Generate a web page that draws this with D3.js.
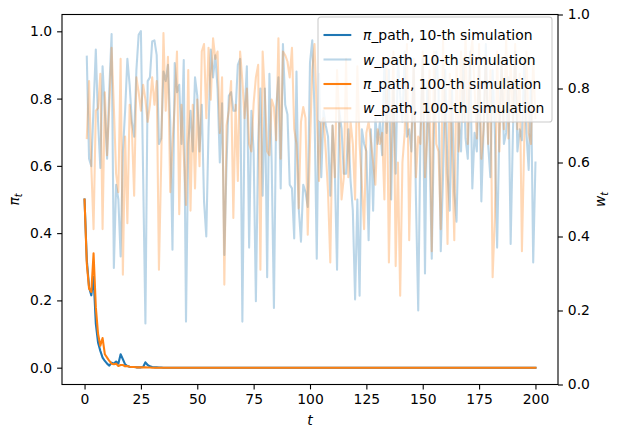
<!DOCTYPE html>
<html>
<head>
<meta charset="utf-8">
<script src="https://cdn.jsdelivr.net/npm/d3@7"></script>
<style>
	body { margin: 0; background: #fff; }
	svg { display: block; font-family: "DejaVu Sans", sans-serif; }
</style>
</head>
<body>
<div id="chart"></div>
<script>
// pi paths, t = 0 .. 200
let piPath10 = [
	0.5, 0.32, 0.24, 0.215, 0.27, 0.13, 0.074, 0.05, 0.03, 0.02, 0.012, 0.006, 0.015, 0.012, 0.018, 0.012, 0.04, 0.025, 0.01, 0.005,
	0.003, 0.002, 0.002, 0.001, 0.001, 0.001, 0.002, 0.016, 0.008, 0.004, 0.002, 0.001, 0.001, 0.0005, 0.0005, 0, 0, 0, 0, 0,
	0, 0, 0, 0, 0, 0, 0, 0, 0, 0, 0, 0, 0, 0, 0, 0, 0, 0, 0, 0,
	0, 0, 0, 0, 0, 0, 0, 0, 0, 0, 0, 0, 0, 0, 0, 0, 0, 0, 0, 0,
	0, 0, 0, 0, 0, 0, 0, 0, 0, 0, 0, 0, 0, 0, 0, 0, 0, 0, 0, 0,
	0, 0, 0, 0, 0, 0, 0, 0, 0, 0, 0, 0, 0, 0, 0, 0, 0, 0, 0, 0,
	0, 0, 0, 0, 0, 0, 0, 0, 0, 0, 0, 0, 0, 0, 0, 0, 0, 0, 0, 0,
	0, 0, 0, 0, 0, 0, 0, 0, 0, 0, 0, 0, 0, 0, 0, 0, 0, 0, 0, 0,
	0, 0, 0, 0, 0, 0, 0, 0, 0, 0, 0, 0, 0, 0, 0, 0, 0, 0, 0, 0,
	0, 0, 0, 0, 0, 0, 0, 0, 0, 0, 0, 0, 0, 0, 0, 0, 0, 0, 0, 0,
	0
];
let piPath100 = [
	0.5, 0.31, 0.235, 0.225, 0.34, 0.18, 0.10, 0.065, 0.088, 0.04, 0.03, 0.02, 0.012, 0.01, 0.012, 0.005, 0.008, 0.008, 0.004, 0.005,
	0.003, 0.002, 0.002, 0.001, 0.001, 0.001, 0.001, 0.001, 0.0005, 0.0005, 0, 0, 0, 0, 0, 0, 0, 0, 0, 0,
	0, 0, 0, 0, 0, 0, 0, 0, 0, 0, 0, 0, 0, 0, 0, 0, 0, 0, 0, 0,
	0, 0, 0, 0, 0, 0, 0, 0, 0, 0, 0, 0, 0, 0, 0, 0, 0, 0, 0, 0,
	0, 0, 0, 0, 0, 0, 0, 0, 0, 0, 0, 0, 0, 0, 0, 0, 0, 0, 0, 0,
	0, 0, 0, 0, 0, 0, 0, 0, 0, 0, 0, 0, 0, 0, 0, 0, 0, 0, 0, 0,
	0, 0, 0, 0, 0, 0, 0, 0, 0, 0, 0, 0, 0, 0, 0, 0, 0, 0, 0, 0,
	0, 0, 0, 0, 0, 0, 0, 0, 0, 0, 0, 0, 0, 0, 0, 0, 0, 0, 0, 0,
	0, 0, 0, 0, 0, 0, 0, 0, 0, 0, 0, 0, 0, 0, 0, 0, 0, 0, 0, 0,
	0, 0, 0, 0, 0, 0, 0, 0, 0, 0, 0, 0, 0, 0, 0, 0, 0, 0, 0, 0,
	0
];

// w paths, t = 1 .. 200
let wPath10 = [
	0.886, 0.61, 0.59, 0.75, 0.905, 0.71, 0.585, 0.86, 0.74, 0.61,
	0.80, 0.947, 0.315, 0.54, 0.50, 0.346, 0.63, 0.74, 0.88, 0.81,
	0.71, 0.67, 0.85, 0.945, 0.955, 0.56, 0.165, 0.82, 0.83, 0.927,
	0.93, 0.89, 0.65, 0.665, 0.846, 0.82, 0.864, 0.71, 0.364, 0.869,
	0.79, 0.81, 0.65, 0.877, 0.17, 0.65, 0.74, 0.63, 0.83, 0.78,
	0.63, 0.756, 0.495, 0.40, 0.69, 0.905, 0.83, 0.89, 0.80, 0.60,
	0.76, 0.35, 0.60, 0.78, 0.79, 0.74, 0.74, 0.864, 0.88, 0.17,
	0.73, 0.86, 0.37, 0.74, 0.63, 0.225, 0.65, 0.80, 0.51, 0.80,
	0.29, 0.84, 0.60, 0.207, 0.747, 0.83, 0.53, 0.92, 0.756, 0.73,
	0.54, 0.53, 0.395, 0.846, 0.476, 0.386, 0.54, 0.52, 0.48, 0.87,
	0.93, 0.74, 0.34, 0.84, 0.56, 0.74, 0.70, 0.67, 0.51, 0.70,
	0.58, 0.31, 0.74, 0.69, 0.57, 0.57, 0.69, 0.55, 0.47, 0.23,
	0.50, 0.24, 0.69, 0.65, 0.63, 0.39, 0.69, 0.47, 0.72, 0.65,
	0.71, 0.62, 0.88, 0.68, 0.85, 0.50, 0.80, 0.57, 0.88, 0.78,
	0.71, 0.90, 0.67, 0.69, 0.63, 0.86, 0.50, 0.20, 0.68, 0.88,
	0.30, 0.82, 0.65, 0.34, 0.69, 0.90, 0.80, 0.36, 0.56, 0.85,
	0.57, 0.47, 0.80, 0.52, 0.44, 0.71, 0.63, 0.88, 0.665, 0.61,
	0.90, 0.53, 0.68, 0.63, 0.86, 0.495, 0.69, 0.92, 0.65, 0.56,
	0.85, 0.68, 0.37, 0.69, 0.88, 0.65, 0.68, 0.83, 0.38, 0.68,
	0.90, 0.63, 0.69, 0.66, 0.87, 0.68, 0.58, 0.82, 0.33, 0.60
];
let wPath100 = [
	0.666, 0.82, 0.59, 0.42, 0.74, 0.747, 0.84, 0.42, 0.79, 0.62,
	0.756, 0.91, 0.75, 0.57, 0.52, 0.88, 0.297, 0.67, 0.436, 0.756,
	0.69, 0.51, 0.83, 0.79, 0.74, 0.81, 0.77, 0.71, 0.756, 0.83,
	0.756, 0.82, 0.31, 0.60, 0.95, 0.74, 0.886, 0.52, 0.65, 0.756,
	0.90, 0.46, 0.756, 0.62, 0.485, 0.85, 0.47, 0.756, 0.53, 0.77,
	0.59, 0.90, 0.92, 0.72, 0.91, 0.77, 0.936, 0.88, 0.90, 0.68,
	0.83, 0.27, 0.70, 0.74, 0.82, 0.45, 0.756, 0.55, 0.90, 0.82,
	0.72, 0.80, 0.65, 0.63, 0.76, 0.83, 0.864, 0.31, 0.90, 0.78,
	0.63, 0.62, 0.77, 0.75, 0.66, 0.936, 0.61, 0.90, 0.89, 0.873,
	0.83, 0.91, 0.69, 0.65, 0.476, 0.71, 0.75, 0.72, 0.405, 0.65,
	0.85, 0.92, 0.74, 0.55, 0.71, 0.72, 0.63, 0.52, 0.33, 0.70,
	0.56, 0.85, 0.71, 0.50, 0.56, 0.88, 0.56, 0.71, 0.65, 0.50,
	0.86, 0.65, 0.54, 0.42, 0.68, 0.71, 0.66, 0.60, 0.54, 0.69,
	0.65, 0.68, 0.50, 0.86, 0.33, 0.65, 0.90, 0.32, 0.60, 0.24,
	0.60, 0.68, 0.92, 0.39, 0.665, 0.88, 0.56, 0.67, 0.65, 0.90,
	0.56, 0.665, 0.85, 0.36, 0.90, 0.65, 0.63, 0.42, 0.93, 0.69,
	0.38, 0.84, 0.63, 0.39, 0.88, 0.63, 0.90, 0.71, 0.95, 0.65,
	0.88, 0.93, 0.80, 0.665, 0.92, 0.61, 0.69, 0.89, 0.65, 0.85,
	0.29, 0.45, 0.90, 0.63, 0.86, 0.69, 0.94, 0.665, 0.88, 0.71,
	0.92, 0.69, 0.84, 0.36, 0.65, 0.90, 0.68, 0.65, 0.88, 0.72
];

let xTicks = [0, 25, 50, 75, 100, 125, 150, 175, 200];
let leftTicks = [0, 0.2, 0.4, 0.6, 0.8, 1.0];
let rightTicks = [0, 0.2, 0.4, 0.6, 0.8, 1.0];
let legendLabels = [
	["π", "_path, 10-th simulation"],
	["w", "_path, 10-th simulation"],
	["π", "_path, 100-th simulation"],
	["w", "_path, 100-th simulation"]
];

/**
 * Dimensions
 */
let width = 619;
let height = 438;
let margin = { top: 14.5, right: 61, bottom: 53.5, left: 62 };
let chartW = width - margin.left - margin.right;
let chartH = height - margin.top - margin.bottom;
let blue = "#1f77b4";
let orange = "#ff7f0e";
let lineW = 2.08;
let fs = 13.9;

let svg = d3.select("#chart").append("svg")
	.attr("width", width)
	.attr("height", height);

let chart = svg.append("g")
	.attr("transform", "translate(" + margin.left + "," + margin.top + ")");

/**
 * Scales
 */
let xScale = d3.scaleLinear().domain([-10, 210]).range([0, chartW]);
let yLeft = d3.scaleLinear().domain([-0.05, 1.05]).range([chartH, 0]);
let yRight = d3.scaleLinear().domain([0, 1]).range([chartH, 0]);

chart.append("clipPath").attr("id", "clip")
	.append("rect").attr("width", chartW).attr("height", chartH);

let plot = chart.append("g").attr("clip-path", "url(#clip)");

// pi paths on the left axis
let lineLeft = d3.line()
	.x(function(d, i) { return xScale(i); })
	.y(function(d) { return yLeft(d); });

// w paths on the right axis, starting at t = 1
let lineRight = d3.line()
	.x(function(d, i) { return xScale(i + 1); })
	.y(function(d) { return yRight(d); });

let series = [
	{ data: piPath10, line: lineLeft, color: blue, opacity: 1 },
	{ data: piPath100, line: lineLeft, color: orange, opacity: 1 },
	{ data: wPath10, line: lineRight, color: blue, opacity: 0.3 },
	{ data: wPath100, line: lineRight, color: orange, opacity: 0.3 }
];

series.forEach(function(s) {
	plot.append("path")
		.datum(s.data)
		.attr("fill", "none")
		.attr("stroke", s.color)
		.attr("stroke-opacity", s.opacity)
		.attr("stroke-width", lineW)
		.attr("stroke-linejoin", "round")
		.attr("stroke-linecap", "square")
		.attr("d", s.line);
});

/**
 * Axes
 */
function styleAxis(g) {
	g.select(".domain").remove();
	g.selectAll(".tick line").attr("stroke", "#000").attr("stroke-width", 1.1);
	g.selectAll(".tick text")
		.attr("fill", "#000")
		.style("font-size", fs + "px")
		.style("font-family", "DejaVu Sans");
}

chart.append("g")
	.attr("transform", "translate(0," + chartH + ")")
	.call(d3.axisBottom(xScale).tickValues(xTicks).tickSize(4.9).tickPadding(4.9).tickFormat(d3.format("d")))
	.call(styleAxis);

chart.append("g")
	.call(d3.axisLeft(yLeft).tickValues(leftTicks).tickSize(4.9).tickPadding(4.9).tickFormat(d3.format(".1f")))
	.call(styleAxis);

chart.append("g")
	.attr("transform", "translate(" + chartW + ",0)")
	.call(d3.axisRight(yRight).tickValues(rightTicks).tickSize(4.9).tickPadding(4.9).tickFormat(d3.format(".1f")))
	.call(styleAxis);

// spines
chart.append("rect")
	.attr("width", chartW)
	.attr("height", chartH)
	.attr("fill", "none")
	.attr("stroke", "#000")
	.attr("stroke-width", 1.1);

/**
 * Axis labels
 */
svg.append("text")
	.attr("x", margin.left + chartW / 2)
	.attr("y", 425)
	.attr("text-anchor", "middle")
	.style("font-size", fs + "px")
	.style("font-style", "italic")
	.text("t");

function subLabel(x, main, sub) {
	let t = svg.append("text")
		.attr("transform", "translate(" + x + "," + (margin.top + chartH / 2) + ") rotate(-90)")
		.attr("text-anchor", "middle")
		.style("font-size", fs + "px")
		.style("font-style", "italic");
	t.append("tspan").text(main);
	t.append("tspan")
		.attr("dy", 3)
		.style("font-size", (fs * 0.7) + "px")
		.text(sub);
}
subLabel(19, "π", "t");
subLabel(605, "w", "t");

/**
 * Legend
 */
let legend = svg.append("g").attr("transform", "translate(318,17)");

legend.append("rect")
	.attr("width", 234)
	.attr("height", 105)
	.attr("rx", 2.8)
	.attr("fill", "#fff")
	.attr("fill-opacity", 0.8)
	.attr("stroke", "#cccccc")
	.attr("stroke-width", 1.1);

let rowY = [18, 42.5, 67, 91.3];
// order in legend: pi10, w10, pi100, w100
let legendSeries = [series[0], series[2], series[1], series[3]];

legendLabels.forEach(function(lbl, i) {
	let s = legendSeries[i];
	legend.append("line")
		.attr("x1", 5.5).attr("x2", 33.3)
		.attr("y1", rowY[i]).attr("y2", rowY[i])
		.attr("stroke", s.color)
		.attr("stroke-opacity", s.opacity)
		.attr("stroke-width", lineW);
	let t = legend.append("text")
		.attr("x", 45)
		.attr("y", rowY[i] + 5)
		.style("font-size", fs + "px");
	t.append("tspan").style("font-style", "italic").text(lbl[0]);
	t.append("tspan").text(lbl[1]);
});
</script>
</body>
</html>
